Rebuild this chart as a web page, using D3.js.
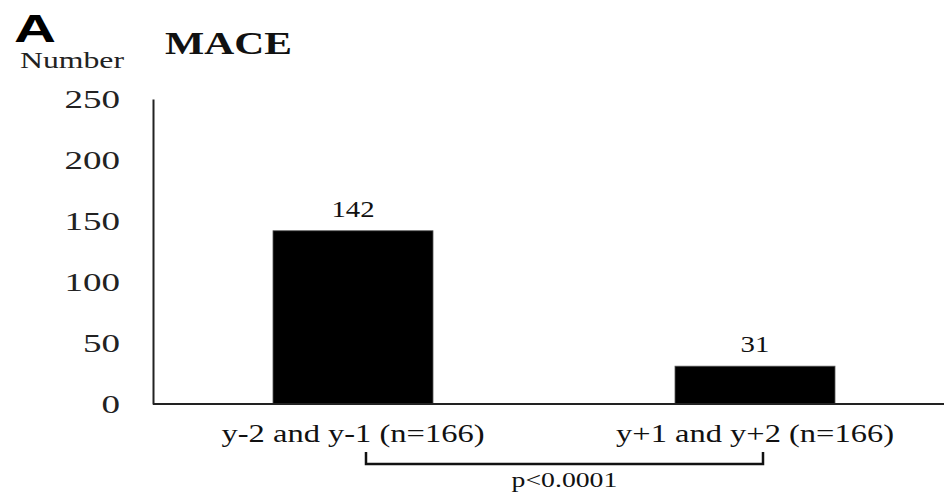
<!DOCTYPE html>
<html><head><meta charset="utf-8">
<script src="https://cdn.jsdelivr.net/npm/d3@7"></script>
<style>body{margin:0;background:#fff}svg{display:block}</style>
</head><body>
<script>
const categories = ["y-2 and y-1 (n=166)", "y+1 and y+2 (n=166)"];
const values = [142, 31];
const yTicks = [0, 50, 100, 150, 200, 250];
const title = "MACE";
const panel = "A";
const yLabel = "Number";
const pLabel = "p<0.0001";

const W = 944, H = 492;
const svg = d3.select("body").append("svg").attr("width", W).attr("height", H);
const serif = "Liberation Serif";

// horizontally stretch a text element by a factor (the source image is stretched)
function stretch(sel, k) {
  sel.each(function () {
    const n = this.getComputedTextLength();
    d3.select(this).attr("textLength", n * k).attr("lengthAdjust", "spacingAndGlyphs");
  });
}

const x = d3.scaleBand().domain(categories).range([153, 955]).paddingInner(0.602).paddingOuter(0.2985);
const y = d3.scaleLinear().domain([0, 250]).range([404, 99]);

// bars
svg.selectAll("rect.bar").data(values).join("rect")
  .attr("class", "bar")
  .attr("x", (d, i) => x(categories[i]))
  .attr("width", x.bandwidth())
  .attr("y", d => y(d))
  .attr("height", d => y(0) - y(d))
  .attr("fill", "#000").attr("stroke", "#555").attr("stroke-width", 0.8);

// y axis
const ya = svg.append("g").attr("transform", "translate(153,0)")
  .call(d3.axisLeft(y).tickValues(yTicks).tickSize(0).tickSizeOuter(0).tickPadding(33));
ya.select(".domain").attr("stroke", "#222").attr("stroke-width", 2);
ya.selectAll("text").attr("font-family", serif).attr("font-size", 25).attr("fill", "#222")
  .call(stretch, 1.48);

// x axis
const xa = svg.append("g").attr("transform", "translate(0,404)")
  .call(d3.axisBottom(x).tickSize(0).tickSizeOuter(0).tickPadding(20));
xa.select(".domain").attr("stroke", "#222").attr("stroke-width", 2).attr("d", "M153,0H944");
xa.selectAll("text").attr("font-family", serif).attr("font-size", 25).attr("fill", "#111")
  .call(stretch, 1.3);

// value labels
svg.selectAll("text.val").data(values).join("text")
  .attr("class", "val")
  .attr("x", (d, i) => x(categories[i]) + x.bandwidth() / 2)
  .attr("y", d => y(d) - 14)
  .attr("text-anchor", "middle")
  .attr("font-family", serif).attr("font-size", 23).attr("fill", "#111")
  .text(d => d)
  .call(stretch, 1.25);

// bracket
const bx1 = x(categories[0]) + x.bandwidth() / 2 + 13;
const bx2 = x(categories[1]) + x.bandwidth() / 2 + 8;
svg.append("path")
  .attr("d", `M${bx1},452V464H${bx2}V452`)
  .attr("fill", "none").attr("stroke", "#111").attr("stroke-width", 2.5);
svg.append("text").attr("x", (bx1 + bx2) / 2).attr("y", 487)
  .attr("text-anchor", "middle").attr("font-family", serif).attr("font-size", 21).attr("fill", "#111")
  .text(pLabel).call(stretch, 1.32);

// title & labels
svg.append("text").attr("x", 165).attr("y", 54).attr("font-family", serif).attr("font-weight", "bold")
  .attr("font-size", 31).attr("fill", "#111").text(title).call(stretch, 1.34);
svg.append("text").attr("x", 14).attr("y", 42).attr("font-family", "Liberation Sans").attr("font-weight", "bold")
  .attr("font-size", 38).attr("fill", "#000").attr("textLength", 42).attr("lengthAdjust", "spacingAndGlyphs").text(panel);
svg.append("text").attr("x", 20).attr("y", 68).attr("font-family", serif)
  .attr("font-size", 23).attr("fill", "#222").text(yLabel).call(stretch, 1.38);
</script>
</body></html>
